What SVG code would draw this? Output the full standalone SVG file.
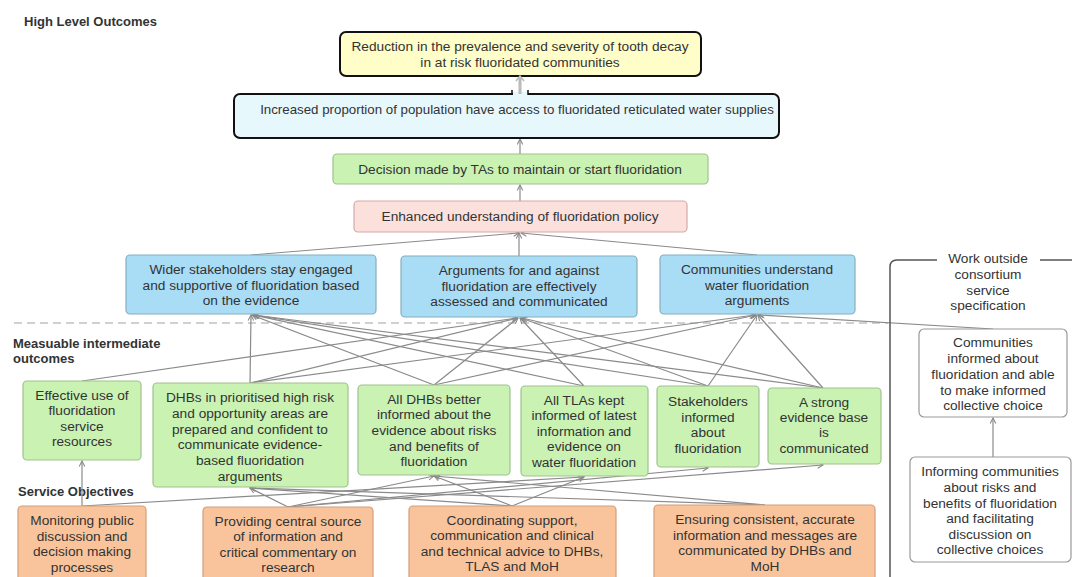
<svg xmlns="http://www.w3.org/2000/svg" width="1072" height="577" viewBox="0 0 1072 577">
<defs>
<marker id="ah" viewBox="0 0 10 10" refX="9" refY="5" markerWidth="7" markerHeight="7" orient="auto-start-reverse" markerUnits="userSpaceOnUse">
<path d="M1,1 L9,5 L1,9" fill="none" stroke="#888" stroke-width="1.5"/>
</marker>
<style>
text{font-family:"Liberation Sans",Arial,sans-serif;font-size:13.7px;fill:#333;text-anchor:middle}
.h{font-weight:bold;text-anchor:start;font-size:13px;fill:#333}
.e line{stroke:#8a8a8a;stroke-width:1.2;marker-end:url(#ah)}
.grn{fill:#c9f2b3;stroke:#9fc28f;stroke-width:1.2}
.blu{fill:#a9dcf5;stroke:#86aebf;stroke-width:1.2}
.org{fill:#f9c49b;stroke:#cfa07c;stroke-width:1.2}
.wht{fill:#fff;stroke:#999;stroke-width:1.2}
</style>
</defs>
<rect width="1072" height="577" fill="#fff"/>

<text class="h" x="24" y="26">High Level Outcomes</text>
<text class="h" x="13" y="348">Measuable intermediate</text>
<text class="h" x="13" y="363">outcomes</text>
<text class="h" x="18" y="496">Service Objectives</text>

<line x1="14" y1="323" x2="888" y2="323" stroke="#cdd3cc" stroke-width="2" stroke-dasharray="8 5"/>

<g class="e">
<line x1="520" y1="154" x2="520" y2="139"/>
<line x1="520" y1="201" x2="520" y2="185"/>
<line x1="251" y1="255" x2="519" y2="233"/>
<line x1="519" y1="256" x2="519" y2="233"/>
<line x1="757" y1="255" x2="521" y2="233"/>
<line x1="250" y1="383" x2="251" y2="315"/>
<line x1="434" y1="385" x2="252" y2="315"/>
<line x1="584" y1="386" x2="253" y2="315"/>
<line x1="708" y1="386" x2="253" y2="315"/>
<line x1="823" y1="388" x2="254" y2="315"/>
<line x1="82" y1="381" x2="517" y2="318"/>
<line x1="250" y1="383" x2="518" y2="318"/>
<line x1="434" y1="385" x2="518" y2="318"/>
<line x1="584" y1="386" x2="520" y2="318"/>
<line x1="708" y1="386" x2="521" y2="318"/>
<line x1="823" y1="388" x2="522" y2="318"/>
<line x1="250" y1="383" x2="755" y2="315"/>
<line x1="434" y1="385" x2="756" y2="315"/>
<line x1="708" y1="386" x2="757" y2="315"/>
<line x1="823" y1="388" x2="758" y2="315"/>
<line x1="993" y1="329" x2="759" y2="315"/>
<line x1="82" y1="506" x2="82" y2="461"/>
<line x1="82" y1="506" x2="584" y2="477"/>
<line x1="288" y1="507" x2="250" y2="488"/>
<line x1="288" y1="507" x2="434" y2="476"/>
<line x1="288" y1="507" x2="708" y2="468"/>
<line x1="288" y1="507" x2="823" y2="465"/>
<line x1="512" y1="506" x2="434" y2="476"/>
<line x1="512" y1="506" x2="584" y2="477"/>
<line x1="512" y1="506" x2="250" y2="488"/>
<line x1="765" y1="505" x2="250" y2="488"/>
<line x1="765" y1="505" x2="434" y2="476"/>
<line x1="993" y1="457" x2="993" y2="418"/>
</g>

<g id="n-reduction">
<rect x="340" y="32" width="361" height="44" rx="6" fill="#fffdc8" stroke="#111" stroke-width="2"/>
<text x="520" y="51">Reduction in the prevalence and severity of tooth decay</text>
<text x="520" y="67">in at risk fluoridated communities</text>
</g>
<g id="n-access">
<rect x="234" y="94" width="545" height="44" rx="6" fill="#e7f8fd" stroke="#111" stroke-width="2"/>
<rect x="513" y="92" width="15" height="5" fill="#e7f8fd"/>
<path d="M512 90 V95 M528 90 V95" stroke="#111" stroke-width="1.5" fill="none"/>
<line x1="520" y1="94" x2="520" y2="78" stroke="#bbb" stroke-width="3"/>
<path d="M516 81 L520 76 L524 81" fill="none" stroke="#bbb" stroke-width="1.5"/>
<text x="517" y="114" style="font-size:13.3px">Increased proportion of population have access to fluoridated reticulated water supplies</text>
</g>
<g id="n-decision">
<rect x="333" y="154" width="375" height="30" rx="4" class="grn"/>
<text x="520" y="174">Decision made by TAs to maintain or start  fluoridation</text>
</g>
<g id="n-understanding">
<rect x="354" y="201" width="333" height="31" rx="4" fill="#fbe0dc" stroke="#d4aaa8" stroke-width="1.2"/>
<text x="520" y="221">Enhanced understanding of fluoridation policy</text>
</g>

<g id="n-wider">
<rect x="126" y="255" width="250" height="59" rx="4" class="blu"/>
<text x="251" y="274">Wider stakeholders stay engaged</text>
<text x="251" y="290">and supportive  of fluoridation based</text>
<text x="251" y="305">on the evidence</text>
</g>
<g id="n-arguments">
<rect x="401" y="256" width="236" height="61" rx="4" class="blu"/>
<text x="519" y="275">Arguments for and against</text>
<text x="519" y="291">fluoridation are effectively</text>
<text x="519" y="306">assessed and communicated</text>
</g>
<g id="n-communities">
<rect x="660" y="255" width="195" height="59" rx="4" class="blu"/>
<text x="757" y="274">Communities understand</text>
<text x="757" y="290">water fluoridation</text>
<text x="757" y="305">arguments</text>
</g>

<g id="n-effective">
<rect x="23" y="381" width="118" height="79" rx="4" class="grn"/>
<text x="82" y="400">Effective use of</text>
<text x="82" y="415">fluoridation</text>
<text x="82" y="431">service</text>
<text x="82" y="446">resources</text>
</g>
<g id="n-dhbs-prioritised">
<rect x="153" y="383" width="195" height="104" rx="4" class="grn"/>
<text x="250" y="402">DHBs in prioritised high risk</text>
<text x="250" y="418">and opportunity areas are</text>
<text x="250" y="434">prepared and confident to</text>
<text x="250" y="449">communicate evidence-</text>
<text x="250" y="465">based fluoridation</text>
<text x="250" y="481">arguments</text>
</g>
<g id="n-all-dhbs">
<rect x="358" y="385" width="152" height="90" rx="4" class="grn"/>
<text x="434" y="404">All DHBs better</text>
<text x="434" y="419">informed about the</text>
<text x="434" y="435">evidence about risks</text>
<text x="434" y="451">and benefits of</text>
<text x="434" y="466">fluoridation</text>
</g>
<g id="n-all-tlas">
<rect x="521" y="386" width="127" height="90" rx="4" class="grn"/>
<text x="584" y="405">All TLAs kept</text>
<text x="584" y="420">informed of latest</text>
<text x="584" y="436">information and</text>
<text x="584" y="451">evidence on</text>
<text x="584" y="467">water fluoridation</text>
</g>
<g id="n-stakeholders">
<rect x="657" y="386" width="102" height="81" rx="4" class="grn"/>
<text x="708" y="406">Stakeholders</text>
<text x="708" y="422">informed</text>
<text x="708" y="437">about</text>
<text x="708" y="453">fluoridation</text>
</g>
<g id="n-evidence">
<rect x="768" y="388" width="113" height="76" rx="4" class="grn"/>
<text x="824" y="407">A strong</text>
<text x="824" y="422">evidence base</text>
<text x="824" y="437">is</text>
<text x="824" y="453">communicated</text>
</g>

<g id="n-monitoring">
<rect x="18" y="506" width="128" height="80" rx="4" class="org"/>
<text x="82" y="525">Monitoring public</text>
<text x="82" y="541">discussion and</text>
<text x="82" y="556">decision making</text>
<text x="82" y="572">processes</text>
</g>
<g id="n-providing">
<rect x="203" y="507" width="170" height="80" rx="4" class="org"/>
<text x="288" y="526">Providing central source</text>
<text x="288" y="541">of information and</text>
<text x="288" y="557">critical commentary on</text>
<text x="288" y="572">research</text>
</g>
<g id="n-coordinating">
<rect x="409" y="506" width="207" height="80" rx="4" class="org"/>
<text x="512" y="525">Coordinating support,</text>
<text x="512" y="540">communication and clinical</text>
<text x="512" y="556">and technical advice to DHBs,</text>
<text x="512" y="571">TLAS and MoH</text>
</g>
<g id="n-ensuring">
<rect x="654" y="505" width="221" height="80" rx="4" class="org"/>
<text x="765" y="524">Ensuring consistent, accurate</text>
<text x="765" y="540">information and messages are</text>
<text x="765" y="555">communicated by DHBs and</text>
<text x="765" y="571">MoH</text>
</g>

<g id="n-outside">
<path d="M937 260 H897 Q890 260 890 267 V577 M1040 260 H1072" fill="none" stroke="#555" stroke-width="1.5"/>
<text x="988" y="263">Work outside</text>
<text x="988" y="279">consortium</text>
<text x="988" y="295">service</text>
<text x="988" y="310">specification</text>
</g>
<g id="n-informed">
<rect x="919" y="329" width="148" height="88" rx="5" class="wht"/>
<text x="993" y="347">Communities</text>
<text x="993" y="363">informed about</text>
<text x="993" y="379">fluoridation and able</text>
<text x="993" y="395">to make informed</text>
<text x="993" y="410">collective choice</text>
</g>
<g id="n-informing">
<rect x="910" y="457" width="161" height="105" rx="5" class="wht"/>
<text x="990" y="476">Informing communities</text>
<text x="990" y="492">about  risks and</text>
<text x="990" y="508">benefits of fluoridation</text>
<text x="990" y="523">and facilitating</text>
<text x="990" y="539">discussion on</text>
<text x="990" y="554">collective choices</text>
</g>
</svg>
